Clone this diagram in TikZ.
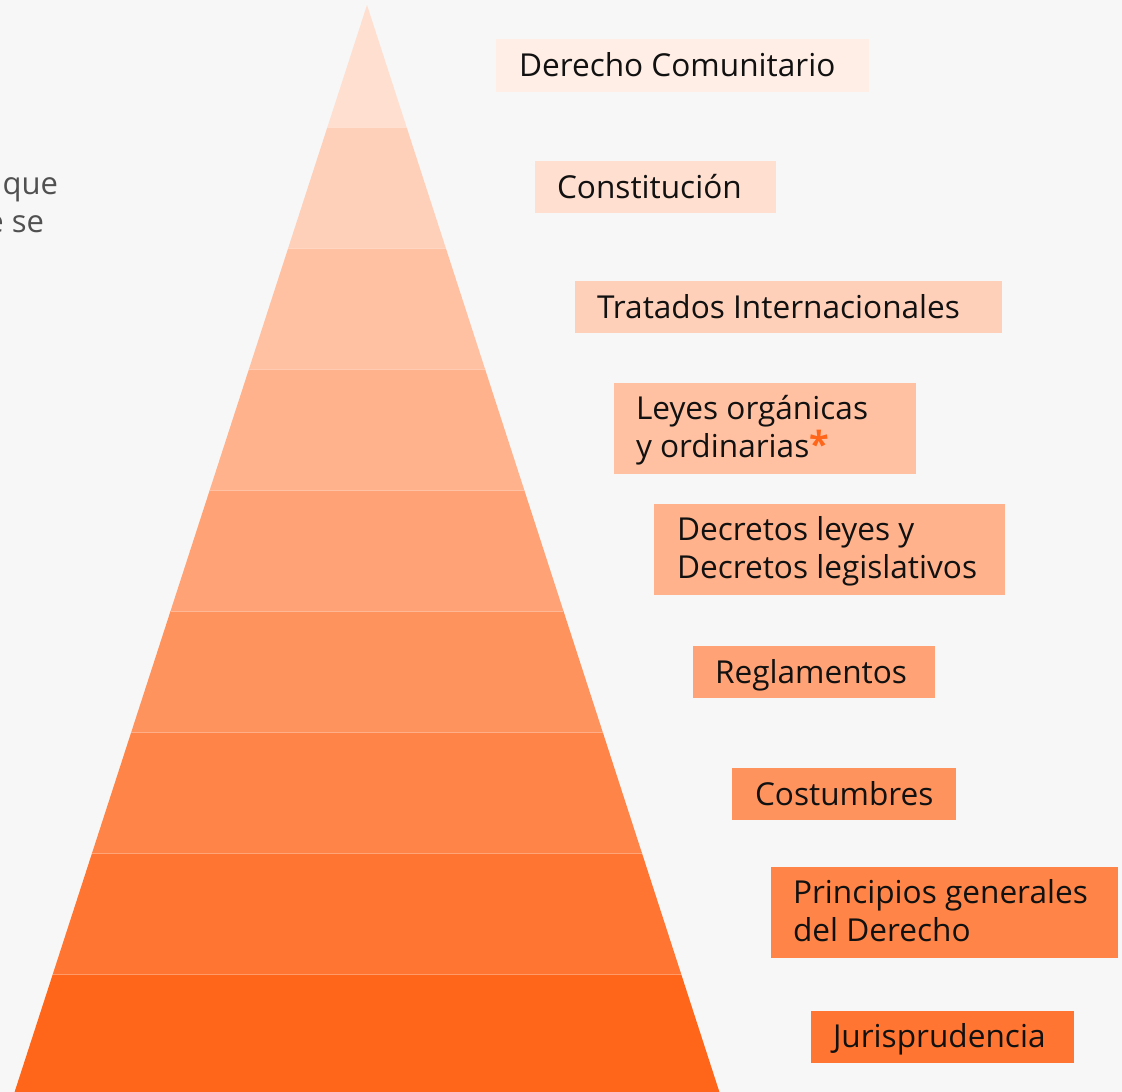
\documentclass[tikz,border=0pt]{standalone}
\usepackage{fontspec}
\setmainfont{Open Sans}
\definecolor{bg}{RGB}{247,247,247}
\definecolor{c0}{RGB}{255,238,230}
\definecolor{c1}{RGB}{255,223,207}
\definecolor{c2}{RGB}{255,208,185}
\definecolor{c3}{RGB}{255,193,162}
\definecolor{c4}{RGB}{255,178,139}
\definecolor{c5}{RGB}{255,162,117}
\definecolor{c6}{RGB}{255,147,94}
\definecolor{c7}{RGB}{255,132,71}
\definecolor{c8}{RGB}{255,117,49}
\definecolor{c9}{RGB}{255,102,26}
\definecolor{ink}{RGB}{17,17,17}
\definecolor{star}{RGB}{255,102,26}
\definecolor{side}{RGB}{80,80,80}
\newcommand{\twolines}[2]{\begin{tabular}[t]{@{}l@{}}#1\\#2\end{tabular}}
\begin{document}
\begin{tikzpicture}[x=1pt,y=-1pt,
  labelbox/.style={inner sep=0pt, outer sep=0pt, anchor=north west},
  labeltext/.style={inner sep=0pt, outer sep=0pt, anchor=base west, text=ink,
    font=\fontsize{31.6}{38}\selectfont},
  sidetext/.style={inner sep=0pt, outer sep=0pt, anchor=base east, text=side,
    font=\fontsize{31}{38}\selectfont},
  sep/.style={white, opacity=0.35, line width=1pt}]
\useasboundingbox (0,0) rectangle (1122,1092);
\fill[bg] (0,0) rectangle (1122,1092);

% pyramid bands
\foreach \yt/\yb/\c in {5/127/c1, 127/248/c2, 248/369/c3, 369/490/c4, 490/611/c5,
                        611/732/c6, 732/853/c7, 853/974/c8, 974/1092/c9} {
  \fill[\c] ({367-0.3242*(\yt-5)},\yt) -- ({367+0.3242*(\yt-5)},\yt)
        -- ({367+0.3242*(\yb-5)},\yb) -- ({367-0.3242*(\yb-5)},\yb) -- cycle;
}
\foreach \y in {127,248,369,490,611,732,853,974} {
  \draw[sep] ({367-0.3242*(\y-5)},\y) -- ({367+0.3242*(\y-5)},\y);
}

% label boxes
\node[labelbox, fill=c0, minimum width=373, minimum height=53] (b1) at (496,39) {};
\node[labelbox, fill=c1, minimum width=241, minimum height=52] (b2) at (535,161) {};
\node[labelbox, fill=c2, minimum width=427, minimum height=52] (b3) at (575,281) {};
\node[labelbox, fill=c3, minimum width=302, minimum height=91] (b4) at (614,383) {};
\node[labelbox, fill=c4, minimum width=351, minimum height=91] (b5) at (654,504) {};
\node[labelbox, fill=c5, minimum width=242, minimum height=52] (b6) at (693,646) {};
\node[labelbox, fill=c6, minimum width=224, minimum height=52] (b7) at (732,768) {};
\node[labelbox, fill=c7, minimum width=347, minimum height=91] (b8) at (771,867) {};
\node[labelbox, fill=c8, minimum width=263, minimum height=52] (b9) at (811,1011) {};

% label texts
\node[labeltext] (t1) at (519,76) {Derecho Comunitario};
\node[labeltext] (t2) at (557,198) {Constitución};
\node[labeltext] (t3) at (597,318) {Tratados Internacionales};
\node[labeltext] (t4) at (636,419) {\twolines{Leyes orgánicas}{y ordinarias\textcolor{star}{\fontsize{36}{38}\selectfont\bfseries *}}};
\node[labeltext] (t5) at (677,540) {\twolines{Decretos leyes y}{Decretos legislativos}};
\node[labeltext] (t6) at (715,683) {Reglamentos};
\node[labeltext] (t7) at (755,805) {Costumbres};
\node[labeltext] (t8) at (793,903) {\twolines{Principios generales}{del Derecho}};
\node[labeltext] (t9) at (833,1047) {Jurisprudencia};

% cut-off side text
\node[sidetext] (s1) at (58,194) {que};
\node[sidetext] (s2) at (44,232) {e se};
\end{tikzpicture}
\end{document}
